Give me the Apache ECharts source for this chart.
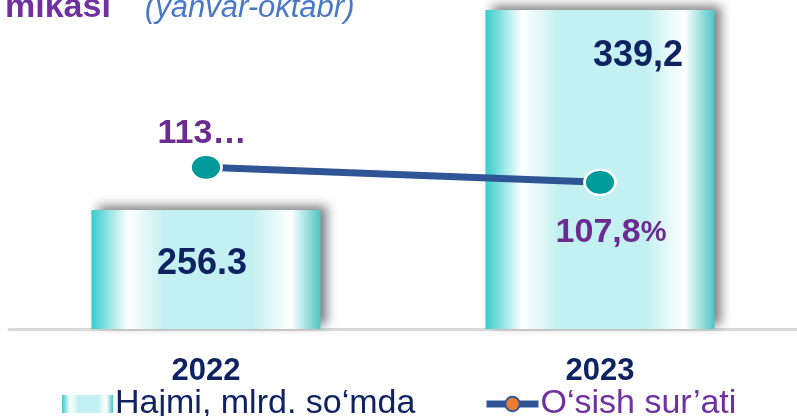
<!DOCTYPE html>
<html>
<head>
<meta charset="utf-8">
<script src="https://cdn.jsdelivr.net/npm/echarts@6/dist/echarts.min.js"></script>
<style>
  html, body { margin: 0; padding: 0; background: #ffffff; }
  #chart { width: 797px; height: 416px; }
</style>
</head>
<body>
<div id="chart"></div>
<script>
// ---- data ----
const categories = ['2022', '2023'];
const volume = [256.3, 339.2];
const volumeLabels = ['256.3', '339,2'];
const growth = [113.0, 107.8];
const growthLabels = ['113…', '107,8%'];
const seriesNames = ['Hajmi, mlrd. so‘mda', 'O‘sish sur’ati'];
const titleMain = 'mikasi';
const titleSub = '(yanvar-oktabr)';

// ---- styles ----
const NAVY = '#0f2262';
const PURPLE = '#6a2c91';
const LINE_BLUE = '#2f5597';
const TEAL_DOT = '#009a9a';
const FONT = '"Liberation Sans", Arial, sans-serif';

const barGradient = new echarts.graphic.LinearGradient(0, 0, 1, 0, [
  { offset: 0, color: '#36cccc' },
  { offset: 0.16, color: '#ffffff' },
  { offset: 0.32, color: '#c3f0f0' },
  { offset: 0.70, color: '#c3f0f0' },
  { offset: 0.87, color: '#ffffff' },
  { offset: 1, color: '#4cc6c4' }
]);

const barLabelStyles = [
  { position: 'inside', offset: [-4, -5] },
  { position: 'insideTop', offset: [38, 23] }
];
const lineLabelStyles = [
  { position: 'top', distance: 3, offset: [-4, 0] },
  { position: 'bottom', distance: 20, offset: [11, 0] }
];

const chart = echarts.init(document.getElementById('chart'), null, { renderer: 'canvas' });

const option = {
  backgroundColor: '#ffffff',
  animation: false,
  textStyle: { fontFamily: FONT },
  title: {
    left: 0,
    top: -14,
    text: '{a|' + titleMain + '}{s| }{b|' + titleSub + '}',
    textStyle: {
      fontWeight: 'normal',
      rich: {
        a: { fontSize: 34, fontWeight: 'bold', color: '#7030a0', fontFamily: FONT },
        s: { fontSize: 33, width: 34 },
        b: { fontSize: 31, fontStyle: 'italic', fontWeight: 'normal', color: '#4a78c8', fontFamily: FONT }
      }
    }
  },
  legend: [
    {
      left: 57,
      top: 382,
      itemWidth: 51,
      itemHeight: 18,
      itemGap: 0,
      data: [{
        name: seriesNames[0],
        icon: 'rect',
        itemStyle: { shadowBlur: 0, shadowOffsetX: 0, shadowOffsetY: 0, shadowColor: 'transparent' },
        textStyle: { color: NAVY, fontSize: 34, fontFamily: FONT, padding: [0, 0, 0, -3] }
      }]
    },
    {
      left: 478,
      top: 382,
      itemWidth: 52,
      itemHeight: 18,
      lineStyle: { width: 7, color: LINE_BLUE },
      data: [{
        name: seriesNames[1],
        textStyle: { color: '#7030a0', fontSize: 34, fontFamily: FONT, padding: [0, 0, 0, -3] }
      }]
    }
  ],
  grid: { left: 9, right: -5, top: 10, bottom: 87, containLabel: false },
  xAxis: {
    type: 'category',
    data: categories,
    axisLine: { show: true, lineStyle: { color: '#d9d9d9', width: 3 } },
    axisTick: { show: false },
    axisLabel: {
      color: NAVY,
      fontSize: 31,
      fontWeight: 'bold',
      fontFamily: FONT,
      margin: 27
    }
  },
  yAxis: [
    { type: 'value', min: 207, max: 339.2, show: false, splitLine: { show: false } },
    { type: 'value', min: 57, max: 167.5, show: false, splitLine: { show: false } }
  ],
  series: [
    {
      name: seriesNames[0],
      type: 'bar',
      yAxisIndex: 0,
      barWidth: 229,
      itemStyle: {
        color: barGradient,
        shadowBlur: 10,
        shadowColor: 'rgba(0,0,0,0.5)',
        shadowOffsetX: 6,
        shadowOffsetY: -4
      },
      data: volume.map((v, i) => ({
        value: v,
        label: Object.assign({
          show: true,
          formatter: volumeLabels[i],
          color: NAVY,
          fontSize: 36,
          fontWeight: 'bold',
          fontFamily: FONT
        }, barLabelStyles[i])
      })),
      z: 2
    },
    {
      name: seriesNames[1],
      type: 'line',
      yAxisIndex: 1,
      symbol: 'circle',
      symbolSize: [31, 25],
      lineStyle: { color: LINE_BLUE, width: 7 },
      itemStyle: { color: '#ed7d31', borderColor: LINE_BLUE, borderWidth: 2 },
      data: growth.map((v, i) => {
        const txt = growthLabels[i];
        const hasPct = txt.endsWith('%');
        return {
          value: v,
          itemStyle: { color: TEAL_DOT, borderColor: '#ffffff', borderWidth: 2.5 },
          label: Object.assign({
            show: true,
            formatter: hasPct ? '{n|' + txt.slice(0, -1) + '}{p|%}' : '{n|' + txt + '}',
            rich: {
              n: { color: PURPLE, fontSize: 34, fontWeight: 'bold', fontFamily: FONT },
              p: { color: PURPLE, fontSize: 29, fontWeight: 'bold', fontFamily: FONT }
            }
          }, lineLabelStyles[i])
        };
      }),
      z: 5
    }
  ]
};

chart.setOption(option);
</script>
</body>
</html>
